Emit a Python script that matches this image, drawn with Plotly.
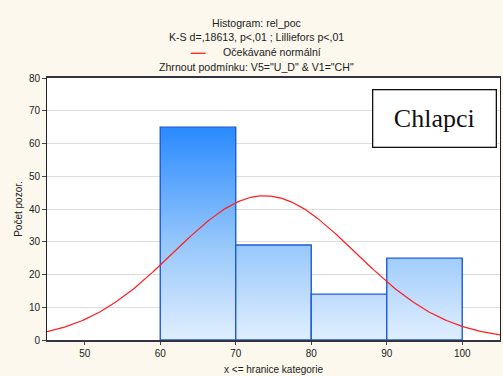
import numpy as np
import plotly.graph_objects as go

# Histogram bins (upper edges) and counts
bin_lower = [60, 70, 80, 90]
bin_upper = [70, 80, 90, 100]
counts = [65, 29, 14, 25]

# Fitted normal parameters for the expected-count curve
fit_mean = 73.8
fit_sd = 12.05
bin_width = 10

x_ticks = [50, 60, 70, 80, 90, 100]
y_ticks = [0, 10, 20, 30, 40, 50, 60, 70, 80]

curve_name = "Očekávané normální"

fig = go.Figure()

blue_scale = [[0.0, "#E3F0FF"], [0.45, "#98C8FB"], [1.0, "#2A8AFF"]]

for lo, hi, c in zip(bin_lower, bin_upper, counts):
    fig.add_trace(go.Scatter(
        x=[lo, lo, hi, hi, lo],
        y=[0, c, c, 0, 0],
        mode="lines",
        fill="toself",
        fillgradient=dict(type="vertical", colorscale=blue_scale, start=0, stop=65),
        line=dict(color="#1E5CD8", width=1.4),
        showlegend=False,
        hoverinfo="skip",
    ))

n_total = sum(counts)
xs = np.linspace(45, 105, 301)
ys = n_total * bin_width / (fit_sd * np.sqrt(2 * np.pi)) * np.exp(-0.5 * ((xs - fit_mean) / fit_sd) ** 2)
fig.add_trace(go.Scatter(
    x=xs, y=ys, mode="lines",
    line=dict(color="#FF1E1E", width=1.2),
    name=curve_name,
    showlegend=False,
))

font = "Liberation Sans, Arial, sans-serif"

W, H = 503, 376
ML, MR, MT, MB = 47, 2, 78, 33
plot_w = W - ML - MR
plot_h = H - MT - MB


def py(pixel_y):
    return (H - MB - pixel_y) / plot_h


def px(pixel_x):
    return (pixel_x - ML) / plot_w


hdr = 10.6
cx = px(257)

fig.update_layout(
    width=W, height=H,
    margin=dict(l=ML, r=MR, t=MT, b=MB),
    paper_bgcolor="#FCF8EE",
    plot_bgcolor="#FFFFFF",
    font=dict(family=font, size=10, color="#222222"),
    showlegend=False,
    xaxis=dict(
        range=[45, 105], tickvals=x_ticks, ticks="outside", ticklen=3,
        showgrid=False, zeroline=False, showline=True, linecolor="#333344",
        linewidth=2, mirror=True,
        tickfont=dict(size=10, color="#222222"),
        title=dict(text="x <= hranice kategorie", font=dict(size=10), standoff=8),
    ),
    yaxis=dict(
        range=[0, 80], tickvals=y_ticks, ticks="outside", ticklen=4,
        showgrid=True, gridcolor="#DDDDDD", gridwidth=1, zeroline=False,
        showline=True, linecolor="#222222", linewidth=1, mirror=True,
        tickfont=dict(size=10, color="#222222"),
        title=dict(text="Počet pozor.", font=dict(size=10), standoff=4),
    ),
    shapes=[
        # key swatch for the normal curve
        dict(type="line", xref="paper", yref="paper",
             x0=px(191), x1=px(206), y0=py(53), y1=py(53),
             line=dict(color="#FF1E1E", width=1.3)),
    ],
    annotations=[
        dict(text="Histogram: rel_poc", x=cx, xref="paper", y=py(22), yref="paper",
             yanchor="middle", showarrow=False, font=dict(size=hdr)),
        dict(text="K-S d=,18613, p<,01 ; Lilliefors p<,01", x=cx, xref="paper",
             y=py(37), yref="paper", yanchor="middle", showarrow=False, font=dict(size=hdr)),
        dict(text=curve_name, x=px(221), xref="paper", xanchor="left",
             y=py(52), yref="paper", yanchor="middle", showarrow=False, font=dict(size=hdr)),
        dict(text="Zhrnout podmínku: V5=\"U_D\" & V1=\"CH\"", x=cx, xref="paper",
             y=py(67), yref="paper", yanchor="middle", showarrow=False, font=dict(size=hdr)),
        dict(text="Chlapci", x=px(435.5), xref="paper", y=py(119), yref="paper",
             xanchor="center", yanchor="middle", showarrow=False,
             font=dict(family="Liberation Serif, Times New Roman, serif", size=26, color="#111111"),
             bordercolor="#111111", borderwidth=1.3, borderpad=8, bgcolor="#FFFFFF",
             width=106, height=40),
    ],
)

fig.write_html("out.html")
